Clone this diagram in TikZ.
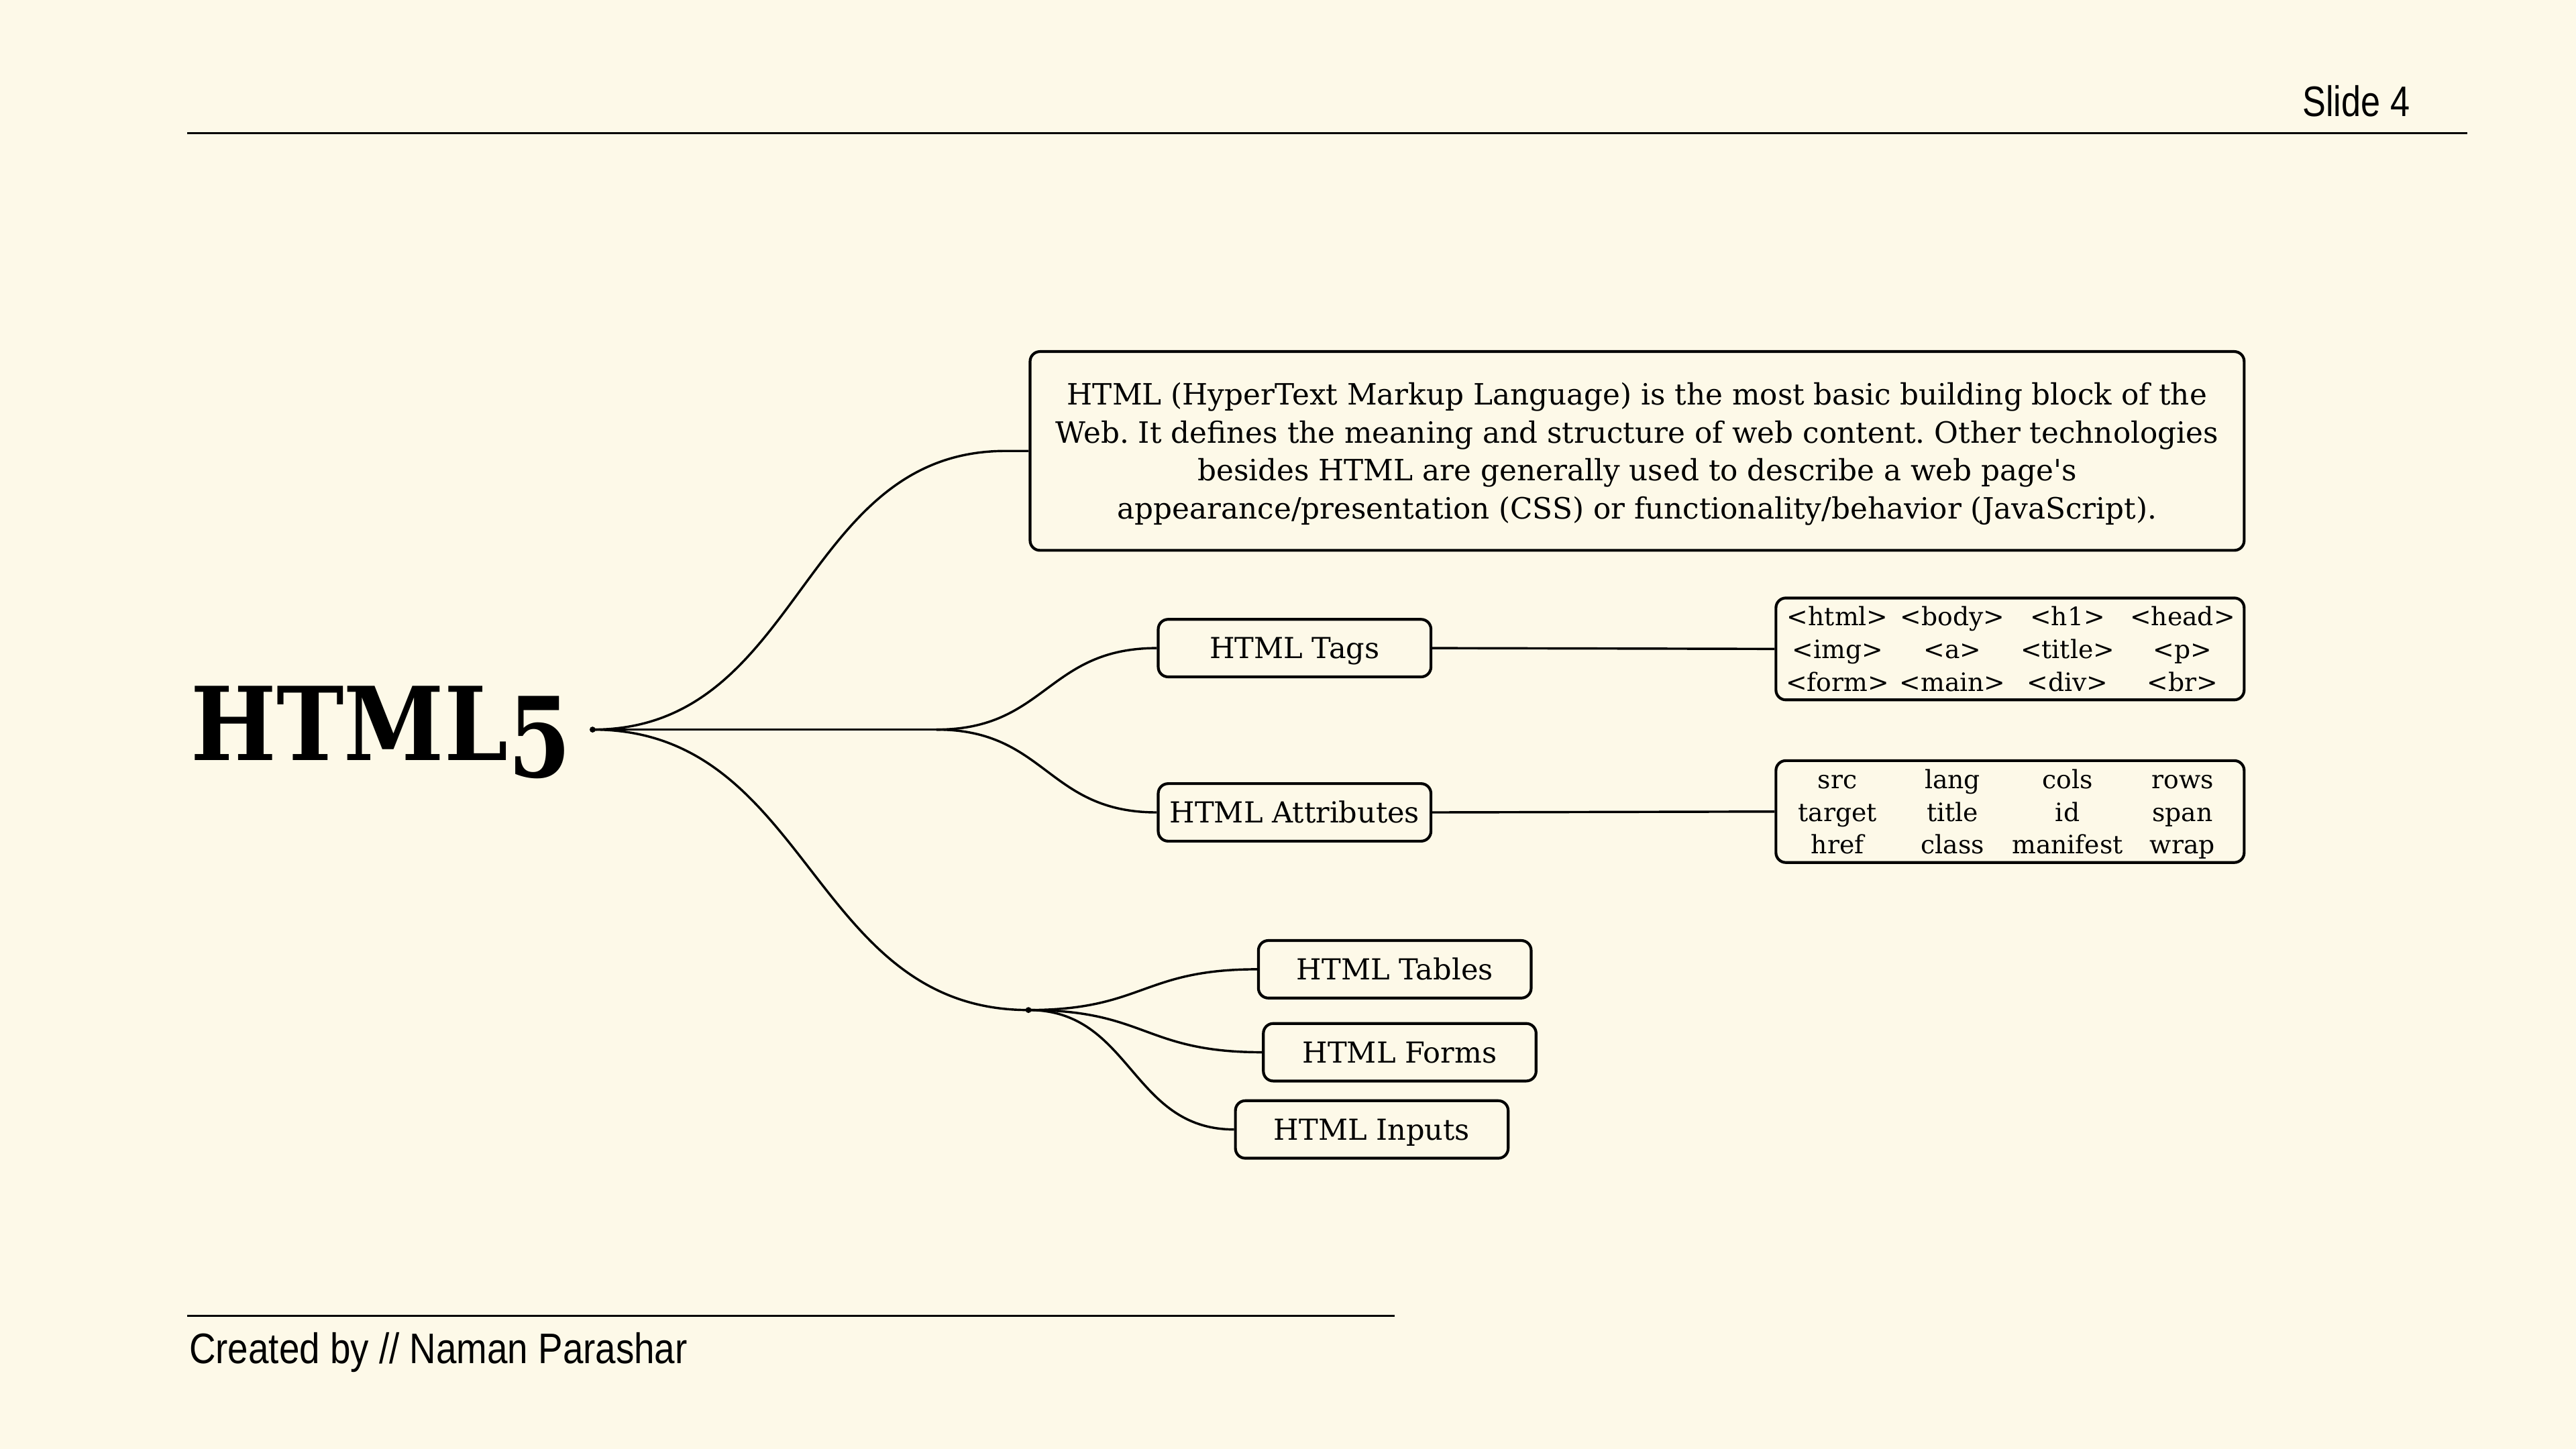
\documentclass[tikz,border=0pt]{standalone}
\usepackage{fontspec}
\usepackage{array}
\usepackage{graphicx}
\usetikzlibrary{calc}
\setmainfont{DejaVu Serif}[Ligatures=TeXOff]
\newfontfamily\condfont[FakeStretch=0.82]{Liberation Sans}
\newfontfamily\footfont[FakeStretch=0.86]{Liberation Sans}
\definecolor{bg}{HTML}{FDF9E8}
\newcolumntype{C}{>{\centering\arraybackslash}p{70pt}}
\newcommand\nodefont{\fontsize{17.6}{23.1}\selectfont}
\newcommand\mainfont{\fontsize{17.85}{23.1}\selectfont}
\newcommand\listfont{\fontsize{15.4}{20}\selectfont}
\frenchspacing
\tikzset{
  bx/.style={draw, line width=1.7pt, rounded corners=6pt, inner sep=0pt},
  lbl/.style={bx, minimum width=166, minimum height=35, font=\nodefont, text height=12.8pt, text depth=0pt},
  lst/.style={bx, minimum width=285, minimum height=62},
  conn/.style={line width=1.4pt},
  rule/.style={line width=1.2pt},
  hub/.style={circle, fill=black, inner sep=0pt, minimum size=3.6pt},
}
\begin{document}
\begin{tikzpicture}[x=1pt,y=-1pt]
\fill[bg] (0,0) rectangle (1568,882);
\useasboundingbox (0,0) rectangle (1568,882);

% header and footer
\coordinate (h1) at (114,81); \coordinate (h2) at (1502,81);
\draw[rule] (h1) -- (h2);
\node[anchor=base east, inner sep=0pt, font=\condfont\fontsize{26}{30}\selectfont] (slide) at (1467,71) {Slide 4};
\coordinate (f1) at (114,801); \coordinate (f2) at (849,801);
\draw[rule] (f1) -- (f2);
\node[anchor=base west, inner sep=0pt, font=\footfont\fontsize{26}{30}\selectfont] (credit) at (115,830) {Created by // Naman Parashar};

% title
\node[anchor=base west, inner sep=0pt, font=\bfseries\fontsize{62}{70}\selectfont] (title) at (116,463)
 {\scalebox{0.89}[1]{HTML\raisebox{-10pt}{\scalebox{1}[1.09]{5}}}};
\node[hub] (root) at (360.7,444.1) {};
\coordinate (split) at (570,444.1);
\node[hub] (junc) at (626,614.8) {};

% boxes
\node[bx, minimum width=739, minimum height=121, font=\mainfont] (main) at (996.5,274.5)
 {\raisebox{-2pt}[\height][\depth]{\setlength{\tabcolsep}{0pt}\begin{tabular}{c}
  HTML (HyperText Markup Language) is the most basic building block of the\\
  Web. It defines the meaning and structure of web content. Other technologies\\
  besides HTML are generally used to describe a web page's\\
  appearance/presentation (CSS) or functionality/behavior (JavaScript).
  \end{tabular}}};
\node[lbl] (tags) at (788,394.5) {HTML Tags};
\node[lbl] (attr) at (788,494.5) {HTML Attributes};
\node[lst] (taglist) at (1223.5,395)
 {\listfont\raisebox{-1.8pt}[\height][\depth]{\setlength{\tabcolsep}{0pt}\begin{tabular}{CCCC}
 <html>&<body>&<h1>&<head>\\
 <img>&<a>&<title>&<p>\\
 <form>&<main>&<div>&<br>
 \end{tabular}}};
\node[lst] (attrlist) at (1223.5,494)
 {\listfont\raisebox{-1.8pt}[\height][\depth]{\setlength{\tabcolsep}{0pt}\begin{tabular}{CCCC}
 src&lang&cols&rows\\
 target&title&id&span\\
 href&class&manifest&wrap
 \end{tabular}}};
\node[lbl] (tables) at (849,590) {HTML Tables};
\node[lbl] (forms) at (852,640.5) {HTML Forms};
\node[lbl] (inputs) at (835,687.5) {HTML Inputs};

% connectors
\coordinate (mainin) at ($(main.west)+(-14,0)$);
\draw[conn] (root.center) .. controls +(128,0) and +(-126,0) .. (mainin) -- (main.west);
\draw[conn] (root.center) -- (split);
\draw[conn] (split) .. controls +(67,0) and +(-67,0) .. (tags.west);
\draw[conn] (split) .. controls +(67,0) and +(-67,0) .. (attr.west);
\draw[conn] (root.center) .. controls +(133,0) and +(-133,0) .. (junc.center);
\draw[conn] (junc.center) .. controls +(70,0) and +(-70,0) .. (tables.west);
\draw[conn] (junc.center) .. controls +(72,0) and +(-72,0) .. (forms.west);
\draw[conn] (junc.center) .. controls +(63,0) and +(-63,0) .. (inputs.west);
\draw[conn] (tags.east) -- (taglist.west);
\draw[conn] (attr.east) -- (attrlist.west);
\end{tikzpicture}
\end{document}
